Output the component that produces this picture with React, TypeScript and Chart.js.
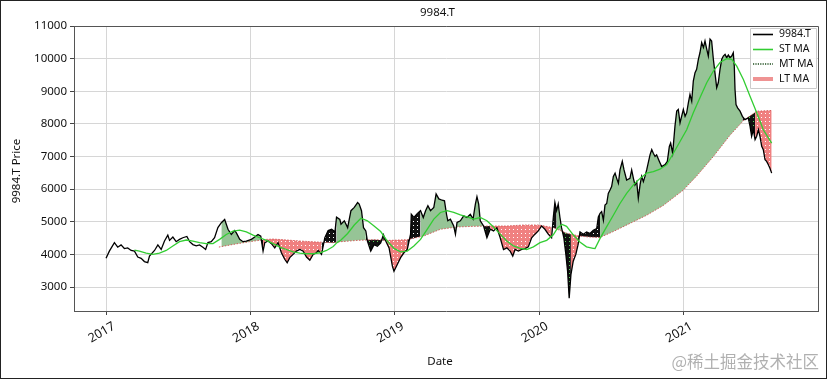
import React, { useEffect, useRef } from 'react';
import { Chart, registerables } from 'chart.js';

Chart.register(...registerables);

const chartTitle = '9984.T';
const yAxisTitle = '9984.T Price';
const xAxisTitle = 'Date';
const watermarkText = '@稀土掘金技术社区';
const legendNames = ['9984.T', 'ST MA', 'MT MA', 'LT MA'];
const xTickYears = [2017, 2018, 2019, 2020, 2021];
const yTickValues = [3000, 4000, 5000, 6000, 7000, 8000, 9000, 10000, 11000];

// dates are decimal years
const priceDates = [
  2017.000, 2017.023, 2017.058, 2017.081, 2017.104, 2017.127, 2017.150, 2017.174, 2017.197, 2017.220,
  2017.243, 2017.266, 2017.289, 2017.301, 2017.336, 2017.359, 2017.382, 2017.405, 2017.428, 2017.440,
  2017.463, 2017.486, 2017.509, 2017.532, 2017.560, 2017.579, 2017.602, 2017.625, 2017.648, 2017.671,
  2017.690, 2017.706, 2017.729, 2017.752, 2017.775, 2017.799, 2017.822, 2017.845, 2017.868, 2017.891,
  2017.903, 2017.926, 2017.949, 2017.972, 2018.007, 2018.030, 2018.053, 2018.072, 2018.088, 2018.100,
  2018.123, 2018.146, 2018.169, 2018.192, 2018.215, 2018.238, 2018.255, 2018.273, 2018.296, 2018.319,
  2018.343, 2018.366, 2018.389, 2018.412, 2018.435, 2018.458, 2018.470, 2018.493, 2018.516, 2018.539,
  2018.563, 2018.586, 2018.597, 2018.620, 2018.628, 2018.651, 2018.674, 2018.697, 2018.720, 2018.743,
  2018.754, 2018.770, 2018.784, 2018.800, 2018.811, 2018.834, 2018.857, 2018.880, 2018.903, 2018.922,
  2018.938, 2018.961, 2018.984, 2018.995, 2019.018, 2019.041, 2019.064, 2019.087, 2019.110, 2019.115,
  2019.133, 2019.156, 2019.179, 2019.198, 2019.214, 2019.230, 2019.248, 2019.271, 2019.287, 2019.306,
  2019.329, 2019.345, 2019.359, 2019.368, 2019.386, 2019.409, 2019.421, 2019.432, 2019.455, 2019.478,
  2019.501, 2019.524, 2019.543, 2019.559, 2019.570, 2019.582, 2019.593, 2019.616, 2019.639, 2019.662,
  2019.685, 2019.708, 2019.731, 2019.754, 2019.777, 2019.800, 2019.818, 2019.834, 2019.857, 2019.880,
  2019.903, 2019.926, 2019.949, 2019.972, 2019.995, 2020.018, 2020.041, 2020.064, 2020.087, 2020.099,
  2020.110, 2020.122, 2020.133, 2020.145, 2020.156, 2020.172, 2020.186, 2020.198, 2020.209, 2020.221,
  2020.237, 2020.255, 2020.271, 2020.284, 2020.307, 2020.330, 2020.353, 2020.376, 2020.400, 2020.411,
  2020.423, 2020.434, 2020.446, 2020.457, 2020.469, 2020.480, 2020.492, 2020.503, 2020.515, 2020.527,
  2020.538, 2020.550, 2020.561, 2020.577, 2020.589, 2020.607, 2020.630, 2020.642, 2020.654, 2020.665,
  2020.677, 2020.688, 2020.700, 2020.711, 2020.723, 2020.734, 2020.746, 2020.769, 2020.781, 2020.792,
  2020.804, 2020.815, 2020.834, 2020.850, 2020.873, 2020.889, 2020.903, 2020.912, 2020.926, 2020.942,
  2020.954, 2020.965, 2020.977, 2020.988, 2021.000, 2021.012, 2021.023, 2021.035, 2021.046, 2021.058,
  2021.069, 2021.081, 2021.092, 2021.104, 2021.115, 2021.127, 2021.139, 2021.150, 2021.162, 2021.173,
  2021.185, 2021.196, 2021.208, 2021.219, 2021.231, 2021.242, 2021.254, 2021.266, 2021.277, 2021.289,
  2021.300, 2021.312, 2021.323, 2021.335, 2021.346, 2021.353, 2021.358, 2021.365, 2021.376, 2021.393,
  2021.409, 2021.427, 2021.450, 2021.462, 2021.473, 2021.485, 2021.497, 2021.508, 2021.520, 2021.531,
  2021.543, 2021.554, 2021.566, 2021.577, 2021.589, 2021.600, 2021.612,
];
const priceValues = [
  3880, 4100, 4360, 4220, 4290, 4180, 4200, 4120, 4100, 3920,
  3880, 3780, 3745, 3950, 4120, 4290, 4150, 4410, 4590, 4430,
  4530, 4390, 4460, 4510, 4550, 4390, 4300, 4260, 4290, 4220,
  4150, 4360, 4390, 4510, 4820, 4970, 5070, 4770, 4610, 4730,
  4660, 4460, 4390, 4410, 4460, 4530, 4610, 4560, 4100, 4360,
  4410, 4330, 4200, 4360, 4050, 3850, 3745, 3900, 4000, 4100,
  4150, 4100, 3920, 3820, 4000, 4050, 4120, 4000, 4510, 4730,
  4770, 4690, 5140, 5070, 4925, 5030, 4820, 5340, 5440, 5590,
  5540, 5340, 4820, 4720, 4410, 4100, 4300, 4250, 4350, 4600,
  4410, 4200, 3640, 3485, 3690, 3900, 4050, 4150, 4620, 5230,
  5130, 5250, 5340, 5130, 5340, 5490, 5340, 5440, 5850, 5700,
  5660, 5640, 5230, 5030, 5080, 4870, 4620, 4980, 5030, 5180,
  5130, 5230, 5080, 5540, 5770, 5540, 5030, 4870, 4510, 4770,
  4720, 4820, 4510, 4150, 4200, 4100, 3950, 4150, 4100, 4150,
  4180, 4230, 4510, 4620, 4720, 4870, 4770, 4620, 4510, 5130,
  5590, 5340, 5540, 5130, 4820, 4510, 4000, 3485, 2660, 3380,
  3790, 4000, 4310, 4690, 4620, 4690, 4640, 4740, 4795, 5150,
  5260, 5310, 5050, 5510, 5560, 5870, 5975, 6080, 6390, 6490,
  6330, 6180, 6590, 6850, 6590, 6280, 6330, 6590, 6330, 6130,
  6230, 5720, 6130, 6390, 6230, 6390, 6590, 7050, 7210, 7100,
  7000, 7050, 6850, 6690, 6750, 6850, 7310, 7410, 7100, 7930,
  8390, 8440, 8030, 8230, 8440, 8230, 8340, 8650, 8900, 8700,
  9310, 9570, 9670, 9980, 10180, 10490, 10340, 10540, 10290, 10080,
  10600, 10540, 9980, 9570, 9110, 9260, 9670, 9980, 10080, 10130,
  10030, 10110, 10030, 10080, 10180, 9770, 9060, 8590, 8490, 8390,
  8230, 8130, 8180, 7930, 7620, 7820, 7520, 7620, 7820, 7620,
  7310, 7210, 6900, 6850, 6750, 6640, 6490,
];

const stDates = [
  2017.197, 2017.231, 2017.278, 2017.324, 2017.370, 2017.417, 2017.463, 2017.509, 2017.556, 2017.602,
  2017.648, 2017.694, 2017.741, 2017.787, 2017.833, 2017.880, 2017.926, 2017.972, 2018.019, 2018.065,
  2018.111, 2018.157, 2018.204, 2018.250, 2018.296, 2018.343, 2018.389, 2018.435, 2018.481, 2018.528,
  2018.574, 2018.600, 2018.628, 2018.674, 2018.720, 2018.766, 2018.811, 2018.857, 2018.903, 2018.949,
  2018.995, 2019.041, 2019.087, 2019.133, 2019.179, 2019.225, 2019.271, 2019.317, 2019.363, 2019.409,
  2019.455, 2019.501, 2019.547, 2019.593, 2019.639, 2019.685, 2019.731, 2019.777, 2019.823, 2019.869,
  2019.915, 2019.961, 2020.007, 2020.053, 2020.099, 2020.130, 2020.160, 2020.191, 2020.237, 2020.283,
  2020.329, 2020.375, 2020.388, 2020.423, 2020.469, 2020.515, 2020.561, 2020.607, 2020.654, 2020.700,
  2020.746, 2020.792, 2020.838, 2020.885, 2020.931, 2020.977, 2021.023, 2021.069, 2021.115, 2021.162,
  2021.208, 2021.254, 2021.300, 2021.335, 2021.370, 2021.416, 2021.462, 2021.508, 2021.554, 2021.612,
];
const stValues = [
  4130, 4100, 4040, 4000, 4040, 4120, 4255, 4390, 4440, 4410,
  4360, 4330, 4330, 4460, 4610, 4715, 4745, 4690, 4590, 4510,
  4430, 4330, 4225, 4150, 4080, 4040, 4020, 4020, 4050, 4120,
  4240, 4360, 4440, 4640, 4900, 5110, 5030, 4870, 4700, 4410,
  4185, 4080, 4100, 4260, 4460, 4770, 5080, 5285, 5340, 5285,
  5210, 5150, 5080, 5130, 5030, 4840, 4620, 4410, 4260, 4185,
  4150, 4230, 4360, 4430, 4600, 4820, 4920, 4860, 4600, 4380,
  4230, 4185, 4180, 4490, 4850, 5200, 5560, 5870, 6130, 6330,
  6490, 6540, 6610, 6750, 7100, 7460, 7820, 8340, 8800, 9260,
  9620, 9880, 10000, 9980, 9770, 9360, 8850, 8350, 7820, 7410,
];

const mtDates: number[] = [];
const mtValues: number[] = [];

const ltDates = [
  2017.782, 2017.880, 2017.995, 2018.111, 2018.157, 2018.227, 2018.343, 2018.458, 2018.574, 2018.628,
  2018.743, 2018.857, 2018.972, 2019.087, 2019.202, 2019.317, 2019.432, 2019.547, 2019.662, 2019.777,
  2019.892, 2020.000, 2020.099, 2020.191, 2020.283, 2020.353, 2020.423, 2020.515, 2020.630, 2020.746,
  2020.861, 2021.000, 2021.092, 2021.208, 2021.323, 2021.416, 2021.508, 2021.612,
];
const ltValues = [
  4225, 4305, 4390, 4460, 4470, 4450, 4410, 4380, 4360, 4390,
  4430, 4450, 4430, 4450, 4565, 4770, 4840, 4860, 4870, 4870,
  4900, 4900, 4820, 4650, 4560, 4530, 4520, 4700, 4950, 5200,
  5500, 5970, 6400, 7000, 7650, 8100, 8390, 8410,
];

const FONT = '"Noto Sans", "DejaVu Sans", sans-serif';

function interp(xs: number[], ys: number[], x: number): number | null {
  if (!xs.length || x < xs[0] || x > xs[xs.length - 1]) return null;
  for (let i = 1; i < xs.length; i++) {
    if (x <= xs[i]) {
      const t = (x - xs[i - 1]) / (xs[i] - xs[i - 1]);
      return ys[i - 1] + t * (ys[i] - ys[i - 1]);
    }
  }
  return ys[ys.length - 1];
}

export default function App() {
  const ref = useRef<HTMLCanvasElement>(null);

  useEffect(() => {
    const canvas = ref.current!;
    const ctx = canvas.getContext('2d')!;
    const mkPat = (bg: string, dot: string) => {
      const t = document.createElement('canvas');
      t.width = 4;
      t.height = 4;
      const g = t.getContext('2d')!;
      g.fillStyle = bg;
      g.fillRect(0, 0, 4, 4);
      g.fillStyle = dot;
      g.fillRect(1, 1, 1, 1);
      return ctx.createPattern(t, 'repeat') as CanvasPattern;
    };
    const fillStyles: (string | CanvasPattern)[] = [
      '#96c496',
      mkPat('#111111', '#5ad25a'),
      mkPat('#f08080', '#ffffff'),
      mkPat('#111111', '#ffffff'),
    ];

    // regime of each price point: 0 bull/above, 1 bull/below, 2 bear/below, 3 bear/above
    const regime = priceDates.map((x, i) => {
      const lt = interp(ltDates, ltValues, x);
      const st = interp(stDates, stValues, x);
      if (lt === null || st === null) return -1;
      const above = priceValues[i] >= lt;
      if (st > lt) return above ? 0 : 1;
      return above ? 3 : 2;
    });

    const LT_INDEX = 3;
    const fillSets = [0, 1, 2, 3].map((r) => ({
      label: 'fill' + r,
      data: priceDates.map((x, i) => {
        const inc = regime[i] !== -1 && (regime[i] === r || regime[i + 1] === r);
        return { x, y: inc ? priceValues[i] : null };
      }),
      borderWidth: 0,
      borderColor: 'rgba(0,0,0,0)',
      backgroundColor: fillStyles[r],
      pointRadius: 0,
      fill: LT_INDEX,
      order: 10 + r,
    }));

    const pts = (xs: number[], ys: number[]) => xs.map((x, i) => ({ x, y: ys[i] }));

    const decor = {
      id: 'decor',
      afterDraw(chart: any) {
        const c = chart.ctx as CanvasRenderingContext2D;
        const a = chart.chartArea;
        const xs = chart.scales.x;
        c.save();
        // top & right spines
        c.strokeStyle = '#555';
        c.lineWidth = 1;
        c.beginPath();
        c.moveTo(a.left, a.top + 0.5);
        c.lineTo(a.right + 0.5, a.top + 0.5);
        c.lineTo(a.right + 0.5, a.bottom);
        c.stroke();

        // rotated x tick labels
        c.fillStyle = '#111';
        c.font = `12.5px ${FONT}`;
        c.textAlign = 'right';
        c.textBaseline = 'top';
        xTickYears.forEach((yr) => {
          const px = xs.getPixelForValue(yr);
          c.save();
          c.translate(px + 5, a.bottom + 9);
          c.rotate(-Math.PI / 6);
          c.fillText(String(yr), 0, 0);
          c.restore();
        });

        // legend
        const lx = 750, ly = 28, lw = 66, lh = 60;
        c.fillStyle = 'rgba(255,255,255,0.85)';
        c.strokeStyle = '#cccccc';
        c.beginPath();
        c.rect(lx + 0.5, ly + 0.5, lw, lh);
        c.fill();
        c.stroke();
        const rows = [34.5, 49.5, 64, 79];
        const handle = (i: number, y: number) => {
          c.setLineDash([]);
          if (i === 0) { c.strokeStyle = '#000'; c.lineWidth = 1.6; }
          if (i === 1) { c.strokeStyle = '#32cd32'; c.lineWidth = 1.6; }
          if (i === 2) { c.strokeStyle = '#1d4d1d'; c.lineWidth = 1.6; c.setLineDash([1.2, 1.2]); }
          if (i === 3) { c.strokeStyle = 'rgba(236,128,128,0.85)'; c.lineWidth = 4; }
          c.beginPath();
          c.moveTo(753, y);
          c.lineTo(773, y);
          c.stroke();
          c.setLineDash([]);
        };
        c.font = `10.5px ${FONT}`;
        c.textBaseline = 'middle';
        c.textAlign = 'left';
        legendNames.forEach((n, i) => {
          handle(i, rows[i]);
          c.fillStyle = '#111';
          c.fillText(n, 779, rows[i]);
        });

        // titles
        c.fillStyle = '#111';
        c.font = `11.5px ${FONT}`;
        c.textAlign = 'center';
        c.textBaseline = 'middle';
        c.fillText(chartTitle, 437.5, 12.5);
        c.fillText(xAxisTitle, 440, 362);
        c.save();
        c.translate(17, 171);
        c.rotate(-Math.PI / 2);
        c.fillText(yAxisTitle, 0, 0);
        c.restore();

        // watermark
        c.font = `16.5px "Noto Sans CJK SC", sans-serif`;
        c.fillStyle = 'rgba(150,150,150,0.75)';
        c.textAlign = 'right';
        c.fillText(watermarkText, 819, 362);

        // outer frame
        c.strokeStyle = '#222';
        c.lineWidth = 1;
        c.strokeRect(0.5, 0.5, chart.width - 1, chart.height - 1);
        c.restore();
      },
    };

    const chart = new Chart(canvas, {
      type: 'line',
      data: {
        datasets: [
          {
            label: legendNames[1],
            data: pts(stDates, stValues),
            borderColor: '#32cd32',
            borderWidth: 1.3,
            pointRadius: 0,
            fill: false,
            order: 0,
          },
          {
            label: legendNames[0],
            data: pts(priceDates, priceValues),
            borderColor: '#000000',
            borderWidth: 1.3,
            pointRadius: 0,
            fill: false,
            order: 1,
          },
          {
            label: legendNames[2],
            data: pts(mtDates, mtValues),
            borderColor: '#1d4d1d',
            borderWidth: 1,
            borderDash: [1, 1],
            pointRadius: 0,
            fill: false,
            order: 2,
          },
          {
            label: legendNames[3],
            data: pts(ltDates, ltValues),
            borderColor: 'rgba(210,80,80,0.9)',
            borderWidth: 1,
            borderDash: [1.5, 1.5],
            pointRadius: 0,
            fill: false,
            order: 3,
          },
          ...fillSets,
        ] as any,
      },
      options: {
        responsive: false,
        animation: false,
        devicePixelRatio: 1,
        layout: { padding: { top: 26, right: 9, left: 0, bottom: 0 } },
        elements: { line: { tension: 0 }, point: { radius: 0 } },
        plugins: {
          legend: { display: false },
          title: { display: false },
          tooltip: { enabled: false },
          filler: { drawTime: 'beforeDatasetsDraw' },
        } as any,
        scales: {
          x: {
            type: 'linear',
            min: 2016.778,
            max: 2021.933,
            afterBuildTicks: (s: any) => {
              s.ticks = xTickYears.map((v) => ({ value: v }));
            },
            afterFit: (s: any) => {
              s.height = 68;
            },
            ticks: { display: false },
            grid: { color: '#d6d6d6', tickColor: '#444', tickLength: 4 },
            border: { color: '#555' },
          },
          y: {
            type: 'linear',
            min: 2265,
            max: 11000,
            afterBuildTicks: (s: any) => {
              s.ticks = yTickValues.map((v) => ({ value: v }));
            },
            afterFit: (s: any) => {
              s.width = 74;
            },
            ticks: {
              callback: (v: any) => String(v),
              color: '#111',
              font: { family: FONT, size: 11.5 },
              padding: 3,
            },
            grid: { color: '#d6d6d6', tickColor: '#444', tickLength: 4 },
            border: { color: '#555' },
          },
        },
      } as any,
      plugins: [decor],
    });
    return () => chart.destroy();
  }, []);

  return (
    <div style={{ position: 'absolute', left: 0, top: 0, width: 827, height: 379, background: '#fff' }}>
      <canvas ref={ref} width={827} height={379} style={{ display: 'block' }} />
    </div>
  );
}
